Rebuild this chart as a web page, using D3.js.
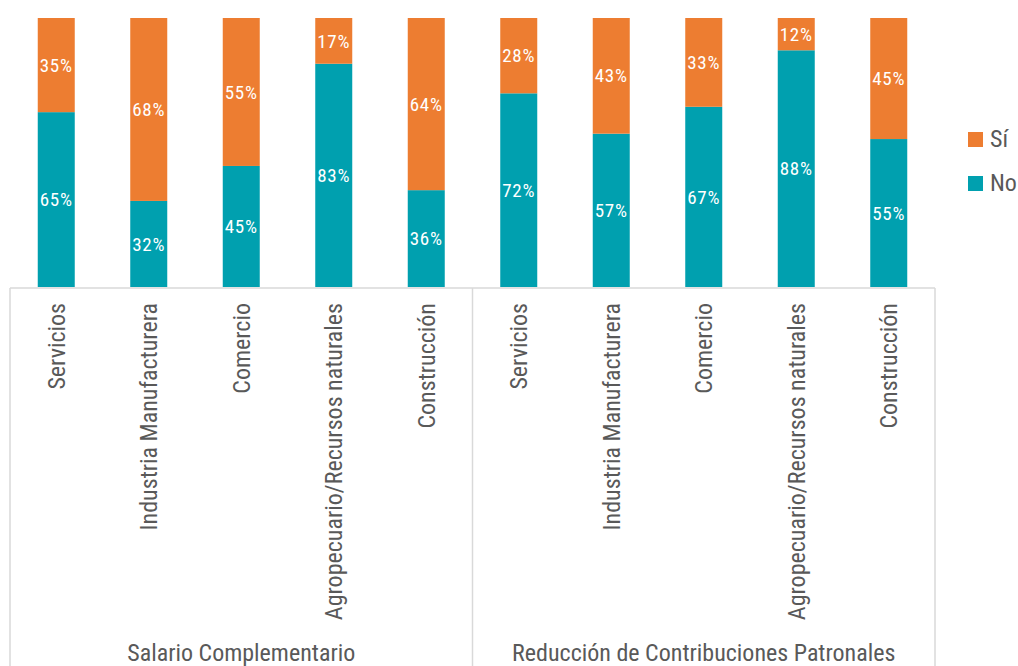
<!DOCTYPE html>
<html><head><meta charset="utf-8">
<script src="https://cdn.jsdelivr.net/npm/d3@7"></script>
<style>
body{margin:0;background:#fff;}
text{font-family:"Liberation Sans Narrow","Roboto Condensed","Liberation Sans",sans-serif;}
</style></head>
<body><svg id="c" width="1018" height="666"></svg>
<script>
const groups = ["Salario Complementario", "Reducción de Contribuciones Patronales"];
const categories = ["Servicios", "Industria Manufacturera", "Comercio", "Agropecuario/Recursos naturales", "Construcción"];
const noValues = [65, 32, 45, 83, 36, 72, 57, 67, 88, 55];
const siValues = [35, 68, 55, 17, 64, 28, 43, 33, 12, 45];
const seriesNames = ["Sí", "No"];
const colors = {"Sí": "#ED7D31", "No": "#00A0AF"};

(function(){
const svg = d3.select("#c");
const pLeft = 10, pRight = 935, pTop = 18, pBottom = 287;
const rows = [];
groups.forEach((g, gi) => categories.forEach((c, ci) => {
  const i = gi * categories.length + ci;
  rows.push({key: i, group: g, cat: c, "No": noValues[i], "Sí": siValues[i]});
}));
const x = d3.scaleBand().domain(rows.map(d => d.key)).range([pLeft, pRight]).paddingInner(0.6).paddingOuter(0.3);
const y = d3.scaleLinear().domain([0, 100]).range([pBottom, pTop]);
const stack = d3.stack().keys(["No", "Sí"]);
const layers = stack(rows);

const g = svg.append("g");
layers.forEach(layer => {
  const name = layer.key;
  g.selectAll(null).data(layer).join("rect")
    .attr("x", d => x(d.data.key))
    .attr("y", d => y(d[1]))
    .attr("width", x.bandwidth())
    .attr("height", d => y(d[0]) - y(d[1]))
    .attr("fill", colors[name]);
  g.selectAll(null).data(layer).join("text")
    .attr("x", d => x(d.data.key) + x.bandwidth() / 2)
    .attr("y", d => (y(d[0]) + y(d[1])) / 2)
    .attr("dy", "0.35em")
    .attr("text-anchor", "middle")
    .attr("fill", "#fff")
    .attr("font-size", 19)
    .attr("letter-spacing", 0.8)
    .text(d => (d[1] - d[0]) + "%");
});

const lineColor = "#d9d9d9";
svg.append("line").attr("x1", pLeft).attr("x2", pRight).attr("y1", pBottom + 1).attr("y2", pBottom + 1).attr("stroke", lineColor).attr("stroke-width", 1.5);
const groupW = (pRight - pLeft) / groups.length;
d3.range(groups.length + 1).forEach(i => {
  const xx = pLeft + i * groupW;
  svg.append("line").attr("x1", xx).attr("x2", xx).attr("y1", pBottom + 1).attr("y2", 666).attr("stroke", lineColor).attr("stroke-width", 1.5);
});

rows.forEach(d => {
  const cx = x(d.key) + x.bandwidth() / 2;
  svg.append("text")
    .attr("transform", `translate(${cx},303) rotate(-90)`)
    .attr("text-anchor", "end")
    .attr("dy", "0.35em")
    .attr("fill", "#595959")
    .attr("font-size", 24)
    .text(d.cat);
});
groups.forEach((gname, i) => {
  svg.append("text")
    .attr("x", pLeft + groupW * (i + 0.5))
    .attr("y", 661)
    .attr("text-anchor", "middle")
    .attr("fill", "#595959")
    .attr("font-size", 24)
    .text(gname);
});

seriesNames.forEach((s, i) => {
  const ly = 139 + i * 44;
  svg.append("rect").attr("x", 968).attr("y", ly - 7).attr("width", 15).attr("height", 15).attr("fill", colors[s]);
  svg.append("text").attr("x", 990).attr("y", ly).attr("dy", "0.35em").attr("fill", "#595959").attr("font-size", 24).text(s);
});
})();
</script></body></html>
